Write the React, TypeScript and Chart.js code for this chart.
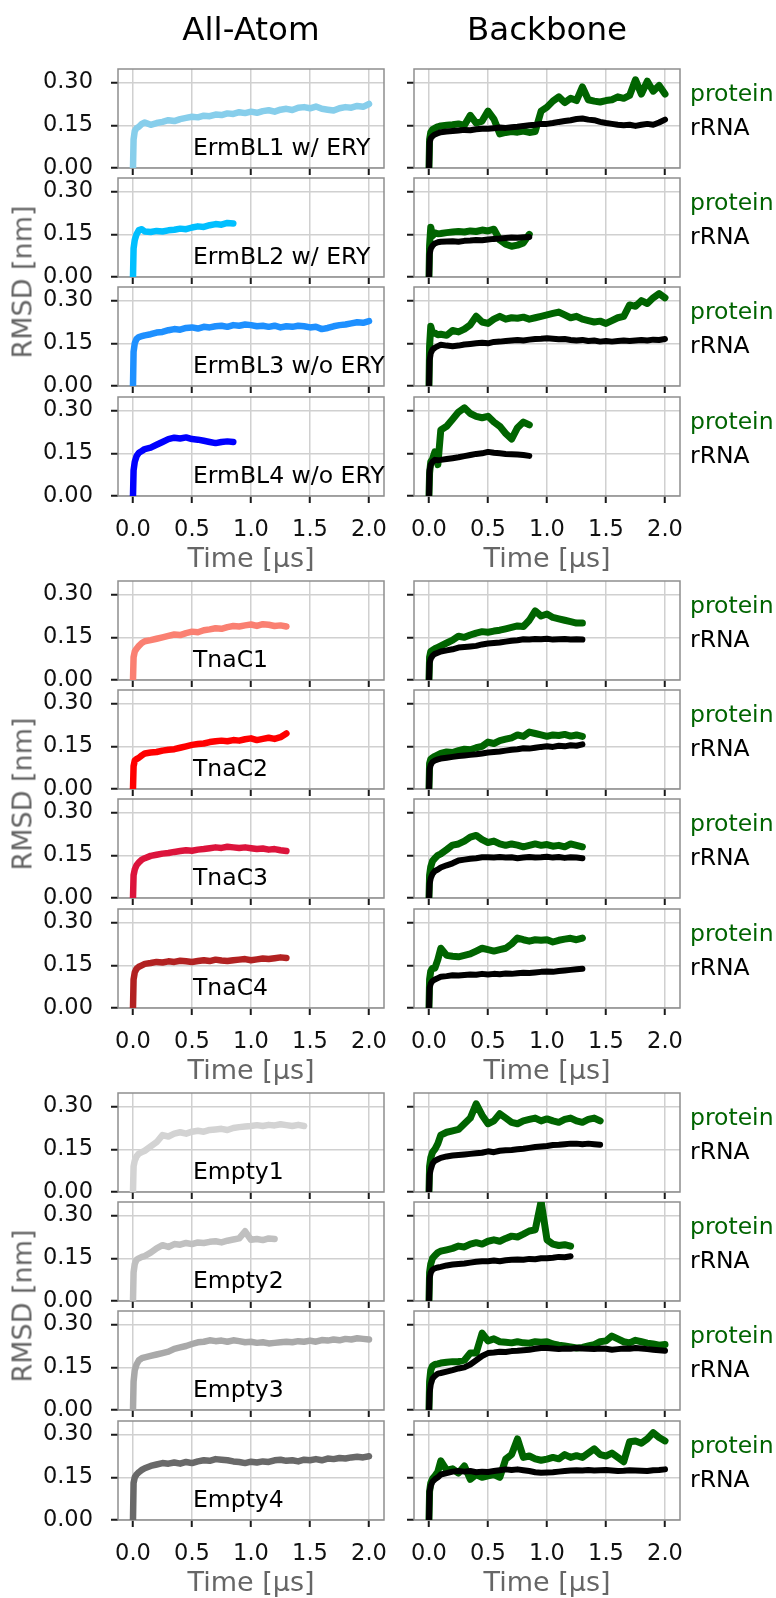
import React, { useEffect, useRef } from "react";
import { Chart, registerables } from "chart.js";

Chart.register(...registerables);

const FONT = "'DejaVu Sans', 'Liberation Sans', sans-serif";
Chart.defaults.font.family = FONT;
Chart.defaults.color = "#000";

// ---------------- data ----------------
// simulation time (µs) shared by every trace; each trace uses its first N entries
const TIME_US = [0, 0.005, 0.015, 0.03, 0.05, 0.075, 0.1, 0.15, 0.2, 0.25, 0.3, 0.35, 0.4, 0.45, 0.5, 0.55, 0.6, 0.65, 0.7, 0.75, 0.8, 0.85, 0.9, 0.95, 1.0, 1.05, 1.1, 1.15, 1.2, 1.25, 1.3, 1.35, 1.4, 1.45, 1.5, 1.55, 1.6, 1.65, 1.7, 1.75, 1.8, 1.85, 1.9, 1.95, 2.0];

const X_TICKS = [0, 0.5, 1.0, 1.5, 2.0];
const Y_TICKS = [0, 0.15, 0.3];
const COLUMN_TITLES = ["All-Atom", "Backbone"];
const X_TITLE = "Time [µs]";
const Y_TITLE = "RMSD [nm]";
const PROTEIN_LABEL = "protein";
const RRNA_LABEL = "rRNA";

const SYSTEM_LABELS = ["ErmBL1 w/ ERY", "ErmBL2 w/ ERY", "ErmBL3 w/o ERY", "ErmBL4 w/o ERY", "TnaC1", "TnaC2", "TnaC3", "TnaC4", "Empty1", "Empty2", "Empty3", "Empty4"];
const SYSTEM_COLORS = ["#87CEEB", "#00BFFF", "#1E90FF", "#0000FF", "#FA8072", "#FF0000", "#DC143C", "#B22222", "#D3D3D3", "#C0C0C0", "#A9A9A9", "#696969"];
const PROTEIN_COLOR = "#006400";
const RRNA_COLOR = "#000000";

// all-atom RMSD (nm)
const aaErmBL1 = [0, 0.10, 0.13, 0.14, 0.145, 0.155, 0.16, 0.152, 0.158, 0.162, 0.168, 0.165, 0.172, 0.176, 0.18, 0.178, 0.184, 0.182, 0.188, 0.186, 0.192, 0.19, 0.196, 0.193, 0.198, 0.194, 0.2, 0.203, 0.198, 0.205, 0.208, 0.204, 0.212, 0.214, 0.21, 0.216, 0.208, 0.205, 0.202, 0.21, 0.214, 0.212, 0.218, 0.215, 0.225];
const aaErmBL2 = [0, 0.1, 0.13, 0.15, 0.165, 0.168, 0.16, 0.158, 0.162, 0.16, 0.164, 0.166, 0.17, 0.168, 0.174, 0.178, 0.176, 0.182, 0.186, 0.184, 0.19, 0.188];
const aaErmBL3 = [0, 0.12, 0.15, 0.165, 0.172, 0.175, 0.178, 0.182, 0.188, 0.19, 0.196, 0.2, 0.198, 0.204, 0.206, 0.202, 0.208, 0.206, 0.21, 0.212, 0.208, 0.214, 0.212, 0.216, 0.214, 0.21, 0.212, 0.208, 0.212, 0.206, 0.21, 0.208, 0.212, 0.21, 0.206, 0.208, 0.2, 0.204, 0.21, 0.214, 0.216, 0.22, 0.224, 0.222, 0.228];
const aaErmBL4 = [0, 0.09, 0.12, 0.14, 0.152, 0.158, 0.165, 0.17, 0.18, 0.19, 0.2, 0.205, 0.202, 0.206, 0.2, 0.198, 0.194, 0.19, 0.186, 0.19, 0.192, 0.19];
const aaTnaC1 = [0, 0.08, 0.1, 0.11, 0.12, 0.13, 0.136, 0.14, 0.145, 0.15, 0.155, 0.16, 0.158, 0.165, 0.17, 0.168, 0.175, 0.178, 0.182, 0.18, 0.186, 0.19, 0.188, 0.192, 0.195, 0.19, 0.196, 0.194, 0.19, 0.192, 0.188];
const aaTnaC2 = [0, 0.08, 0.1, 0.105, 0.11, 0.118, 0.125, 0.128, 0.13, 0.135, 0.138, 0.14, 0.145, 0.15, 0.155, 0.158, 0.16, 0.165, 0.168, 0.17, 0.168, 0.172, 0.17, 0.175, 0.178, 0.172, 0.176, 0.18, 0.176, 0.182, 0.195];
const aaTnaC3 = [0, 0.08, 0.1, 0.115, 0.125, 0.135, 0.14, 0.148, 0.152, 0.156, 0.158, 0.162, 0.165, 0.168, 0.166, 0.17, 0.172, 0.175, 0.178, 0.176, 0.18, 0.178, 0.176, 0.178, 0.175, 0.172, 0.174, 0.17, 0.172, 0.168, 0.165];
const aaTnaC4 = [0, 0.1, 0.125, 0.138, 0.145, 0.15, 0.155, 0.158, 0.162, 0.16, 0.164, 0.162, 0.166, 0.164, 0.162, 0.165, 0.168, 0.165, 0.17, 0.167, 0.165, 0.168, 0.17, 0.172, 0.168, 0.171, 0.174, 0.172, 0.175, 0.178, 0.176];
const aaEmpty1 = [0, 0.09, 0.11, 0.125, 0.135, 0.14, 0.145, 0.16, 0.175, 0.2, 0.195, 0.205, 0.21, 0.205, 0.212, 0.215, 0.212, 0.218, 0.22, 0.222, 0.218, 0.225, 0.228, 0.23, 0.232, 0.235, 0.232, 0.236, 0.234, 0.238, 0.235, 0.232, 0.236, 0.232];
const aaEmpty2 = [0, 0.1, 0.13, 0.145, 0.15, 0.155, 0.158, 0.17, 0.185, 0.196, 0.19, 0.2, 0.198, 0.204, 0.2, 0.206, 0.204, 0.208, 0.21, 0.206, 0.212, 0.216, 0.22, 0.245, 0.215, 0.218, 0.214, 0.22, 0.218];
const aaEmpty3 = [0, 0.1, 0.14, 0.16, 0.175, 0.182, 0.185, 0.19, 0.195, 0.2, 0.205, 0.215, 0.22, 0.225, 0.232, 0.238, 0.24, 0.245, 0.242, 0.244, 0.24, 0.245, 0.242, 0.238, 0.24, 0.236, 0.238, 0.234, 0.236, 0.238, 0.24, 0.238, 0.242, 0.24, 0.244, 0.24, 0.246, 0.244, 0.248, 0.245, 0.25, 0.248, 0.252, 0.25, 0.248];
const aaEmpty4 = [0, 0.13, 0.15, 0.16, 0.168, 0.176, 0.182, 0.19, 0.195, 0.2, 0.198, 0.202, 0.198, 0.204, 0.2, 0.206, 0.21, 0.208, 0.214, 0.212, 0.21, 0.206, 0.204, 0.2, 0.205, 0.202, 0.206, 0.204, 0.21, 0.212, 0.208, 0.21, 0.206, 0.212, 0.21, 0.214, 0.21, 0.216, 0.214, 0.218, 0.216, 0.22, 0.222, 0.22, 0.224];

// backbone RMSD (nm): protein
const protErmBL1 = [0, 0.1, 0.125, 0.135, 0.14, 0.145, 0.148, 0.15, 0.152, 0.155, 0.15, 0.185, 0.158, 0.165, 0.2, 0.172, 0.12, 0.125, 0.128, 0.126, 0.13, 0.125, 0.128, 0.2, 0.214, 0.235, 0.25, 0.23, 0.245, 0.237, 0.285, 0.24, 0.235, 0.232, 0.237, 0.24, 0.25, 0.245, 0.255, 0.31, 0.26, 0.305, 0.27, 0.29, 0.26];
const protErmBL2 = [0, 0.11, 0.175, 0.145, 0.155, 0.152, 0.153, 0.156, 0.158, 0.16, 0.158, 0.162, 0.16, 0.165, 0.162, 0.168, 0.13, 0.115, 0.108, 0.112, 0.12, 0.15];
const protErmBL3 = [0, 0.14, 0.21, 0.185, 0.186, 0.18, 0.182, 0.178, 0.195, 0.19, 0.2, 0.215, 0.245, 0.225, 0.22, 0.235, 0.245, 0.235, 0.24, 0.238, 0.242, 0.235, 0.24, 0.245, 0.25, 0.255, 0.26, 0.25, 0.24, 0.245, 0.235, 0.23, 0.225, 0.228, 0.22, 0.23, 0.24, 0.245, 0.285, 0.28, 0.3, 0.29, 0.31, 0.325, 0.31];
const protErmBL4 = [0, 0.08, 0.12, 0.13, 0.155, 0.11, 0.232, 0.245, 0.27, 0.295, 0.31, 0.29, 0.28, 0.275, 0.28, 0.26, 0.245, 0.22, 0.2, 0.24, 0.26, 0.25];
const protTnaC1 = [0, 0.08, 0.1, 0.105, 0.11, 0.115, 0.12, 0.13, 0.14, 0.154, 0.15, 0.158, 0.165, 0.17, 0.168, 0.172, 0.175, 0.18, 0.185, 0.19, 0.188, 0.21, 0.243, 0.225, 0.232, 0.22, 0.215, 0.21, 0.205, 0.2, 0.2];
const protTnaC2 = [0, 0.09, 0.105, 0.11, 0.115, 0.12, 0.125, 0.13, 0.128, 0.135, 0.14, 0.138, 0.145, 0.15, 0.165, 0.16, 0.17, 0.175, 0.18, 0.19, 0.185, 0.2, 0.195, 0.19, 0.185, 0.19, 0.188, 0.192, 0.186, 0.19, 0.185];
const protTnaC3 = [0, 0.08, 0.11, 0.13, 0.14, 0.15, 0.155, 0.17, 0.186, 0.19, 0.2, 0.214, 0.22, 0.205, 0.195, 0.2, 0.19, 0.185, 0.19, 0.186, 0.18, 0.185, 0.19, 0.185, 0.188, 0.182, 0.185, 0.18, 0.19, 0.185, 0.18];
const protTnaC4 = [0, 0.1, 0.13, 0.14, 0.14, 0.17, 0.21, 0.185, 0.182, 0.18, 0.185, 0.19, 0.2, 0.21, 0.205, 0.2, 0.205, 0.21, 0.225, 0.246, 0.24, 0.235, 0.24, 0.238, 0.24, 0.232, 0.238, 0.242, 0.245, 0.24, 0.246];
const protEmpty1 = [0, 0.09, 0.12, 0.14, 0.15, 0.17, 0.2, 0.21, 0.215, 0.22, 0.24, 0.26, 0.31, 0.27, 0.24, 0.25, 0.275, 0.26, 0.245, 0.24, 0.25, 0.255, 0.26, 0.25, 0.257, 0.25, 0.245, 0.255, 0.26, 0.25, 0.245, 0.255, 0.26, 0.25];
const protEmpty2 = [0, 0.1, 0.13, 0.15, 0.16, 0.17, 0.175, 0.18, 0.185, 0.193, 0.19, 0.2, 0.205, 0.2, 0.21, 0.215, 0.21, 0.22, 0.228, 0.225, 0.235, 0.246, 0.25, 0.35, 0.215, 0.2, 0.195, 0.198, 0.193];
const protEmpty3 = [0, 0.1, 0.14, 0.155, 0.16, 0.162, 0.165, 0.168, 0.17, 0.17, 0.175, 0.2, 0.2, 0.27, 0.243, 0.25, 0.24, 0.238, 0.236, 0.24, 0.236, 0.235, 0.24, 0.238, 0.24, 0.232, 0.228, 0.225, 0.222, 0.218, 0.22, 0.225, 0.23, 0.24, 0.243, 0.26, 0.25, 0.24, 0.236, 0.245, 0.24, 0.235, 0.232, 0.228, 0.23];
const protEmpty4 = [0, 0.1, 0.13, 0.145, 0.155, 0.17, 0.208, 0.175, 0.18, 0.165, 0.19, 0.143, 0.16, 0.15, 0.155, 0.16, 0.15, 0.214, 0.23, 0.285, 0.22, 0.225, 0.215, 0.21, 0.214, 0.22, 0.215, 0.23, 0.22, 0.226, 0.22, 0.235, 0.25, 0.23, 0.225, 0.235, 0.22, 0.205, 0.275, 0.278, 0.27, 0.285, 0.307, 0.29, 0.278];

// backbone RMSD (nm): rRNA
const rnaErmBL1 = [0, 0.09, 0.105, 0.112, 0.118, 0.122, 0.126, 0.128, 0.13, 0.132, 0.134, 0.133, 0.136, 0.138, 0.138, 0.14, 0.142, 0.141, 0.143, 0.145, 0.148, 0.15, 0.152, 0.155, 0.155, 0.158, 0.162, 0.165, 0.168, 0.172, 0.174, 0.17, 0.168, 0.162, 0.158, 0.155, 0.152, 0.15, 0.152, 0.148, 0.152, 0.155, 0.152, 0.16, 0.17];
const rnaErmBL2 = [0, 0.08, 0.1, 0.11, 0.118, 0.122, 0.124, 0.125, 0.126, 0.124, 0.127, 0.128, 0.13, 0.129, 0.132, 0.134, 0.135, 0.137, 0.139, 0.138, 0.14, 0.141];
const rnaErmBL3 = [0, 0.09, 0.115, 0.128, 0.135, 0.14, 0.145, 0.142, 0.14, 0.142, 0.146, 0.148, 0.15, 0.152, 0.15, 0.155, 0.156, 0.158, 0.16, 0.162, 0.16, 0.163, 0.165, 0.166, 0.168, 0.166, 0.164, 0.165, 0.162, 0.16, 0.162, 0.158, 0.16, 0.156, 0.158, 0.156, 0.158, 0.16, 0.158, 0.16, 0.162, 0.16, 0.163, 0.162, 0.165];
const rnaErmBL4 = [0, 0.09, 0.11, 0.12, 0.127, 0.126, 0.127, 0.13, 0.133, 0.136, 0.14, 0.144, 0.148, 0.15, 0.155, 0.152, 0.15, 0.148, 0.147, 0.146, 0.144, 0.141];
const rnaTnaC1 = [0, 0.06, 0.075, 0.085, 0.092, 0.096, 0.1, 0.104, 0.108, 0.114, 0.116, 0.118, 0.12, 0.125, 0.128, 0.13, 0.132, 0.135, 0.138, 0.14, 0.143, 0.142, 0.144, 0.143, 0.145, 0.142, 0.143, 0.144, 0.142, 0.143, 0.142];
const rnaTnaC2 = [0, 0.07, 0.085, 0.095, 0.1, 0.104, 0.107, 0.11, 0.113, 0.116, 0.118, 0.12, 0.122, 0.125, 0.128, 0.13, 0.132, 0.135, 0.138, 0.14, 0.143, 0.142, 0.145, 0.148, 0.15, 0.148, 0.152, 0.15, 0.154, 0.152, 0.157];
const rnaTnaC3 = [0, 0.05, 0.07, 0.085, 0.095, 0.1, 0.107, 0.115, 0.122, 0.132, 0.135, 0.138, 0.14, 0.143, 0.143, 0.142, 0.144, 0.142, 0.143, 0.14, 0.142, 0.144, 0.142, 0.143, 0.145, 0.142, 0.144, 0.141, 0.143, 0.142, 0.14];
const rnaTnaC4 = [0, 0.07, 0.086, 0.095, 0.1, 0.105, 0.11, 0.112, 0.115, 0.114, 0.116, 0.118, 0.117, 0.12, 0.118, 0.12, 0.119, 0.121, 0.12, 0.122, 0.124, 0.123, 0.125, 0.127, 0.128, 0.127, 0.13, 0.132, 0.134, 0.136, 0.138];
const rnaEmpty1 = [0, 0.06, 0.08, 0.1, 0.11, 0.115, 0.12, 0.125, 0.128, 0.13, 0.132, 0.134, 0.136, 0.138, 0.143, 0.14, 0.145, 0.147, 0.148, 0.15, 0.152, 0.155, 0.158, 0.16, 0.162, 0.165, 0.166, 0.168, 0.17, 0.17, 0.168, 0.17, 0.168, 0.166];
const rnaEmpty2 = [0, 0.08, 0.1, 0.11, 0.115, 0.118, 0.12, 0.125, 0.128, 0.13, 0.132, 0.135, 0.138, 0.14, 0.14, 0.142, 0.14, 0.143, 0.145, 0.146, 0.145, 0.148, 0.147, 0.15, 0.15, 0.152, 0.155, 0.154, 0.157];
const rnaEmpty3 = [0, 0.06, 0.09, 0.11, 0.12, 0.128, 0.13, 0.135, 0.14, 0.146, 0.15, 0.16, 0.175, 0.19, 0.2, 0.202, 0.205, 0.204, 0.207, 0.208, 0.21, 0.212, 0.215, 0.218, 0.218, 0.216, 0.214, 0.216, 0.215, 0.218, 0.216, 0.215, 0.214, 0.216, 0.215, 0.212, 0.214, 0.216, 0.215, 0.218, 0.216, 0.214, 0.212, 0.21, 0.208];
const rnaEmpty4 = [0, 0.1, 0.12, 0.135, 0.143, 0.15, 0.16, 0.165, 0.17, 0.172, 0.17, 0.172, 0.168, 0.17, 0.169, 0.172, 0.175, 0.178, 0.176, 0.178, 0.175, 0.172, 0.168, 0.166, 0.167, 0.168, 0.17, 0.172, 0.174, 0.175, 0.174, 0.176, 0.174, 0.175, 0.176, 0.174, 0.172, 0.173, 0.175, 0.174, 0.173, 0.172, 0.175, 0.176, 0.178];

const ALL_ATOM = [aaErmBL1, aaErmBL2, aaErmBL3, aaErmBL4, aaTnaC1, aaTnaC2, aaTnaC3, aaTnaC4, aaEmpty1, aaEmpty2, aaEmpty3, aaEmpty4];
const BB_PROTEIN = [protErmBL1, protErmBL2, protErmBL3, protErmBL4, protTnaC1, protTnaC2, protTnaC3, protTnaC4, protEmpty1, protEmpty2, protEmpty3, protEmpty4];
const BB_RRNA = [rnaErmBL1, rnaErmBL2, rnaErmBL3, rnaErmBL4, rnaTnaC1, rnaTnaC2, rnaTnaC3, rnaTnaC4, rnaEmpty1, rnaEmpty2, rnaEmpty3, rnaEmpty4];

// ---------------- layout ----------------
const X_MIN = -0.127, X_MAX = 2.127;
const Y_MIN = 0, Y_MAX = 0.348;
const PW = 266, PH = 99;
const COL_X = [118, 414];
const CANVAS_X = [0, 390];
const CANVAS_W = [412, 386];
const PAD_T = 36;
const AXIS_H_BOTTOM = 80;
const AXIS_H_INNER = 36;
const rowTop = (i: number) => Math.round(69 + 512 * Math.floor(i / 4) + 109.2 * (i % 4));

const TICK_FONT = 22.5;
const TEXT_FONT = 23.5;
const AXIS_FONT = 27;
const TITLE_FONT = 32.5;

const framePlugin = {
  id: "frame",
  beforeDatasetsDraw(chart: any) {
    const { ctx, chartArea } = chart;
    ctx.save();
    ctx.strokeStyle = "#8e8e8e";
    ctx.lineWidth = 1.5;
    ctx.strokeRect(chartArea.left, chartArea.top, chartArea.right - chartArea.left, chartArea.bottom - chartArea.top);
    ctx.restore();
  },
};

const toXY = (vals: number[]) => vals.map((v, i) => ({ x: TIME_US[i], y: v }));

function lineDs(vals: number[], color: string, width: number, order: number) {
  return {
    data: toXY(vals),
    borderColor: color,
    backgroundColor: color,
    borderWidth: width,
    pointRadius: 0,
    tension: 0,
    fill: false,
    borderJoinStyle: "round",
    borderCapStyle: "round",
    order,
  };
}

function buildConfig(i: number, col: number): any {
  const bottom = i % 4 === 3;
  const datasets =
    col === 0
      ? [lineDs(ALL_ATOM[i], SYSTEM_COLORS[i], 6.5, 0)]
      : [lineDs(BB_RRNA[i], RRNA_COLOR, 6, 0), lineDs(BB_PROTEIN[i], PROTEIN_COLOR, 7, 1)];
  const padL = COL_X[col] - CANVAS_X[col];
  const padR = CANVAS_W[col] - padL - PW;
  const gridOpts = { color: "#d0d0d0", lineWidth: 1.5, drawTicks: true, tickLength: 7, tickColor: "#1a1a1a", tickWidth: 2 };
  return {
    type: "line",
    data: { datasets },
    plugins: [framePlugin],
    options: {
      animation: false,
      responsive: false,
      devicePixelRatio: 1,
      events: [],
      layout: { padding: { left: 0, right: padR, top: PAD_T, bottom: 0 } },
      plugins: { legend: { display: false }, tooltip: { enabled: false } },
      scales: {
        x: {
          type: "linear",
          min: X_MIN,
          max: X_MAX,
          afterBuildTicks: (s: any) => { s.ticks = X_TICKS.map((value) => ({ value })); },
          afterFit: (s: any) => { s.height = bottom ? AXIS_H_BOTTOM : AXIS_H_INNER; },
          grid: gridOpts,
          border: { display: false },
          ticks: {
            display: bottom,
            autoSkip: false,
            maxRotation: 0,
            padding: 14,
            color: "#111",
            font: { size: TICK_FONT },
            callback: (v: any) => Number(v).toFixed(1),
          },
          title: { display: bottom, text: X_TITLE, color: "#666", font: { size: AXIS_FONT }, padding: 0 },
        },
        y: {
          type: "linear",
          min: Y_MIN,
          max: Y_MAX,
          afterBuildTicks: (s: any) => { s.ticks = Y_TICKS.map((value) => ({ value })); },
          afterFit: (s: any) => { s.width = padL; },
          grid: gridOpts,
          border: { display: false },
          ticks: {
            display: col === 0,
            autoSkip: false,
            padding: 18,
            color: "#111",
            font: { size: TICK_FONT },
            callback: (v: any) => Number(v).toFixed(2),
          },
        },
      },
    },
  };
}

function Txt({ x, y, size, text, color = "#000", align = "left" }: { x: number; y: number; size: number; text: string; color?: string; align?: string }) {
  const style: React.CSSProperties = {
    position: "absolute",
    top: y - 0.48 * size,
    fontSize: size,
    lineHeight: `${size}px`,
    color,
    fontFamily: FONT,
    whiteSpace: "nowrap",
  };
  if (align === "center") {
    style.left = x - 200;
    style.width = 400;
    style.textAlign = "center";
  } else {
    style.left = x;
  }
  return <div style={style}>{text}</div>;
}

const PANELS: { i: number; col: number }[] = [];
for (let i = 0; i < 12; i++) for (let col = 0; col < 2; col++) PANELS.push({ i, col });

export default function App() {
  const refs = useRef<(HTMLCanvasElement | null)[]>([]);

  useEffect(() => {
    const charts: Chart[] = [];
    PANELS.forEach((p, k) => {
      const cv = refs.current[k];
      if (cv) charts.push(new Chart(cv, buildConfig(p.i, p.col)));
    });
    return () => charts.forEach((c) => c.destroy());
  }, []);

  return (
    <div style={{ position: "absolute", left: 0, top: 0, width: 776, height: 1598, overflow: "hidden", background: "#fff", fontFamily: FONT }}>
      {PANELS.map((p, k) => {
        const bottom = p.i % 4 === 3;
        const h = PAD_T + PH + (bottom ? AXIS_H_BOTTOM : AXIS_H_INNER);
        return (
          <div key={k} style={{ position: "absolute", left: CANVAS_X[p.col], top: rowTop(p.i) - PAD_T, width: CANVAS_W[p.col], height: h }}>
            <canvas ref={(el) => { refs.current[k] = el; }} width={CANVAS_W[p.col]} height={h} />
          </div>
        );
      })}
      <Txt x={COL_X[0] + PW / 2} y={29} size={TITLE_FONT} text={COLUMN_TITLES[0]} align="center" />
      <Txt x={COL_X[1] + PW / 2} y={29} size={TITLE_FONT} text={COLUMN_TITLES[1]} align="center" />
      {SYSTEM_LABELS.map((lab, i) => (
        <Txt key={"l" + i} x={193} y={rowTop(i) + 78} size={TEXT_FONT} text={lab} />
      ))}
      {SYSTEM_LABELS.map((_, i) => (
        <React.Fragment key={"p" + i}>
          <Txt x={690} y={rowTop(i) + 24.5} size={TEXT_FONT} text={PROTEIN_LABEL} color={PROTEIN_COLOR} />
          <Txt x={690} y={rowTop(i) + 58} size={TEXT_FONT} text={RRNA_LABEL} color={RRNA_COLOR} />
        </React.Fragment>
      ))}
      {[0, 1, 2].map((g) => (
        <div
          key={"y" + g}
          style={{
            position: "absolute",
            left: 22,
            top: 282 + 512 * g,
            transform: "translate(-50%, -50%) rotate(-90deg)",
            fontSize: AXIS_FONT,
            lineHeight: `${AXIS_FONT}px`,
            color: "#666",
            fontFamily: FONT,
            whiteSpace: "nowrap",
          }}
        >
          {Y_TITLE}
        </div>
      ))}
    </div>
  );
}
